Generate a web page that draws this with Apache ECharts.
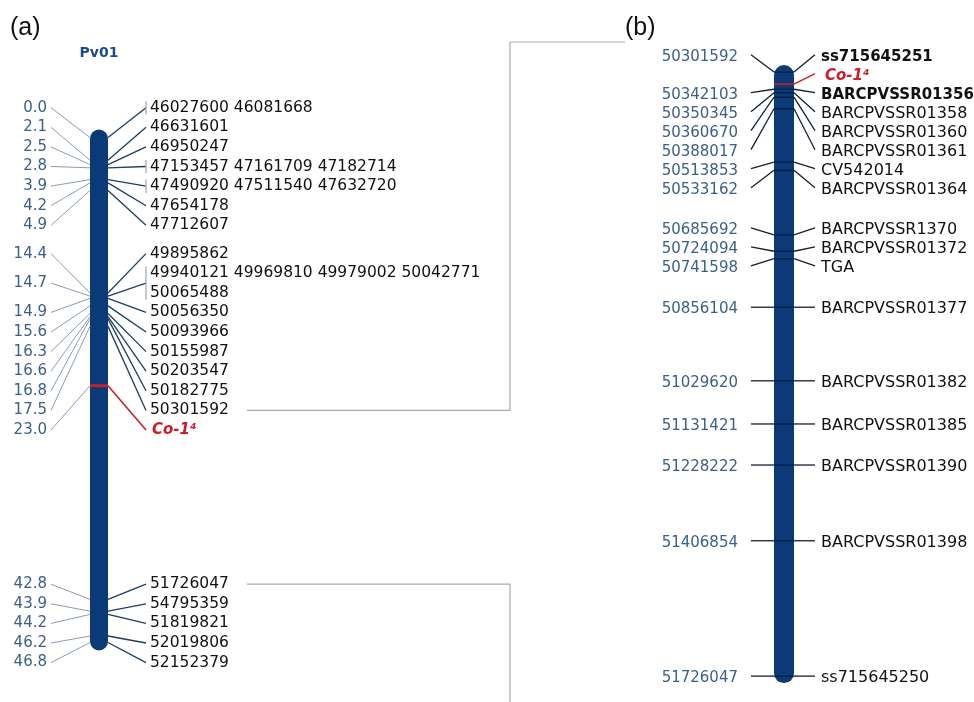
<!DOCTYPE html>
<html>
<head>
<meta charset="utf-8">
<script src="https://cdn.jsdelivr.net/npm/echarts@6/dist/echarts.min.js"></script>
<style>
html, body { margin: 0; padding: 0; background: #fff; }
#main { width: 974px; height: 702px; }
</style>
</head>
<body>
<div id="main"></div>
<script>
// linkage group (a): cM positions and the physical positions listed beside them
var chromosomeName = 'Pv01';
var mapCm = [0.0, 2.1, 2.5, 2.8, 3.9, 4.2, 4.9, 14.4, 14.7, 14.9, 15.6, 16.3, 16.6, 16.8, 17.5, 23.0, 42.8, 43.9, 44.2, 46.2, 46.8];
var mapLabels = ['46027600 46081668', '46631601', '46950247', '47153457 47161709 47182714',
    '47490920 47511540 47632720', '47654178', '47712607', '49895862',
    '49940121 49969810 49979002 50042771\n50065488', '50056350', '50093966', '50155987',
    '50203547', '50182775', '50301592', 'Co-1⁴', '51726047', '54795359', '51819821',
    '52019806', '52152379'];
var geneLabel = 'Co-1⁴';

// zoomed physical map (b)
var zoomPositions = [50301592, 50330000, 50342103, 50350345, 50360670, 50388017, 50513853,
    50533162, 50685692, 50724094, 50741598, 50856104, 51029620, 51131421, 51228222,
    51406854, 51726047];
var zoomMarkers = ['ss715645251', 'Co-1⁴', 'BARCPVSSR01356', 'BARCPVSSR01358', 'BARCPVSSR01360',
    'BARCPVSSR01361', 'CV542014', 'BARCPVSSR01364', 'BARCPVSSR1370', 'BARCPVSSR01372', 'TGA',
    'BARCPVSSR01377', 'BARCPVSSR01382', 'BARCPVSSR01385', 'BARCPVSSR01390', 'BARCPVSSR01398',
    'ss715645250'];
var boldMarkers = ['ss715645251', 'BARCPVSSR01356'];

var FONT = 'DejaVu Sans';
var RED = '#c8202a';
var CHROM = '#0b3a78';

var A = {
    chromWidth: 18, capPad: 8, leftLen: 39, rightLen: 38, leftGap: 4, rightGap: 4,
    rowGap: 19.6, pad: 4, shift: 2.5, rightSize: 15.5,
    leftColor: '#3b5f88', leftLine: '#8a9db3', rightLine: '#1d3d63', tick: '#9aa8b8',
    turnX: 510, topY: 42, endX: 625, connector: '#a3adb7'
};
var B = {
    chromWidth: 20, capPad: 7, leftLen: 23, rightLen: 21, leftGap: 13, rightGap: 6,
    rowGap: 19, pad: 10, textShift: 2, rightSize: 16,
    leftColor: '#3b5f88', lineColor: '#15202e', crossColor: '#061b3c'
};

var measureCtx = document.createElement('canvas').getContext('2d');
function textWidth(str, size, weight) {
    measureCtx.font = (weight || 'normal') + ' ' + size + 'px "' + FONT + '"';
    return measureCtx.measureText(str).width;
}

// spread labels so they do not overlap: neighbours that collide are merged into
// a block centred on the middle of the marks it covers
function spreadLabels(targets, heights, pad) {
    var groups = targets.map(function (t, i) {
        return { lo: t, hi: t, h: heights[i], first: i, last: i };
    });
    function top(g) { return (g.lo + g.hi) / 2 - g.h / 2; }
    var changed = true;
    while (changed) {
        changed = false;
        var next = [groups[0]];
        for (var i = 1; i < groups.length; i++) {
            var prev = next[next.length - 1];
            if (top(prev) + prev.h + pad > top(groups[i])) {
                next[next.length - 1] = {
                    lo: Math.min(prev.lo, groups[i].lo), hi: Math.max(prev.hi, groups[i].hi),
                    h: prev.h + groups[i].h, first: prev.first, last: groups[i].last
                };
                changed = true;
            } else {
                next.push(groups[i]);
            }
        }
        groups = next;
    }
    var out = [];
    groups.forEach(function (g) {
        var y = top(g);
        for (var k = g.first; k <= g.last; k++) {
            out[k] = y + heights[k] / 2;
            y += heights[k];
        }
    });
    return out;
}

function line(x1, y1, x2, y2, color, w) {
    return { type: 'line', shape: { x1: x1, y1: y1, x2: x2, y2: y2 }, style: { stroke: color, lineWidth: w } };
}
function text(x, y, str, align, size, color, weight, italic) {
    return {
        type: 'text',
        style: {
            x: x, y: y, text: str, align: align, verticalAlign: 'middle',
            textAlign: align, textVerticalAlign: 'middle',
            fontFamily: FONT, fontSize: size, fontWeight: weight || 'normal',
            fontStyle: italic ? 'italic' : 'normal', fill: color
        }
    };
}

function renderChromosome(params, api) {
    var P = params.seriesIndex === 0 ? A : B;
    var w = P.chromWidth;
    var top = api.coord([0, api.value(1)]);
    var bottom = api.coord([0, api.value(2)]);
    return {
        type: 'rect',
        shape: { x: top[0] - w / 2, y: top[1] - P.capPad, width: w, height: bottom[1] - top[1] + 2 * P.capPad, r: w / 2 },
        style: { fill: CHROM }
    };
}

function renderMapRow(params, api) {
    var i = params.dataIndex;
    var targets = mapCm.map(function (v) { return api.coord([0, v])[1]; });
    var heights = mapLabels.map(function (s) { return s.split('\n').length * A.rowGap; });
    var ys = spreadLabels(targets, heights, A.pad);
    var cx = api.coord([0, mapCm[i]])[0];
    var half = A.chromWidth / 2;
    var y0 = targets[i], y = ys[i] + A.shift;
    var label = mapLabels[i];
    var isGene = label === geneLabel;
    var children = [];

    var lx = cx - half - A.leftLen;
    children.push(line(lx, y, cx - half, y0, A.leftLine, 1));
    children.push(text(lx - A.leftGap, y, mapCm[i].toFixed(1), 'right', 15, A.leftColor));

    var rx = cx + half + A.rightLen;
    children.push(line(cx + half, y0, rx, y, isGene ? RED : A.rightLine, isGene ? 1.6 : 1.3));
    if (label.split(/\s+/).length > 1) {
        children.push(line(rx, y - heights[i] / 2 + 3, rx, y + heights[i] / 2 - 3, A.tick, 1.2));
    }
    label.split('\n').forEach(function (s, k) {
        var ty = y - heights[i] / 2 + (k + 0.5) * A.rowGap;
        if (isGene) {
            children.push(text(rx + A.rightGap + 2, ty, s, 'left', 15, RED, 'bold', true));
        } else {
            children.push(text(rx + A.rightGap, ty, s, 'left', A.rightSize, '#111'));
        }
    });
    if (isGene) {
        children.push({ type: 'rect', shape: { x: cx - half, y: y0 - 1.5, width: A.chromWidth, height: 3 }, style: { fill: RED } });
    }

    // connectors to the zoomed panel
    var first = String(zoomPositions[0]);
    var last = String(zoomPositions[zoomPositions.length - 1]);
    if (label === first || label === last) {
        var sx = rx + A.rightGap + textWidth(label, A.rightSize) + 18;
        var pts = label === first
            ? [[sx, y], [A.turnX, y], [A.turnX, A.topY], [A.endX, A.topY]]
            : [[sx, y], [A.turnX, y], [A.turnX, api.getHeight()]];
        children.push({ type: 'polyline', shape: { points: pts }, style: { stroke: A.connector, lineWidth: 1.2, fill: null } });
    }
    return { type: 'group', children: children };
}

function renderZoomRow(params, api) {
    var i = params.dataIndex;
    var targets = zoomPositions.map(function (v) { return api.coord([0, v])[1]; });
    var heights = zoomPositions.map(function () { return B.rowGap; });
    var ys = spreadLabels(targets, heights, B.pad);
    var cx = api.coord([0, zoomPositions[i]])[0];
    var half = B.chromWidth / 2;
    var y0 = targets[i], y = ys[i], ty = ys[i] + B.textShift;
    var name = zoomMarkers[i];
    var isGene = name === geneLabel;
    var bold = boldMarkers.indexOf(name) >= 0;
    var children = [];

    children.push(line(cx - half, y0, cx + half, y0, isGene ? RED : B.crossColor, isGene ? 1.6 : 1.3));
    if (!isGene) {
        var lx = cx - half - B.leftLen;
        children.push(line(lx, y, cx - half, y0, B.lineColor, 1.3));
        children.push(text(lx - B.leftGap, ty, String(zoomPositions[i]), 'right', 15, B.leftColor));
    }
    var rx = cx + half + B.rightLen;
    children.push(line(cx + half, y0, rx, y, isGene ? RED : B.lineColor, 1.3));
    if (isGene) {
        children.push(text(rx + B.rightGap + 4, ty, name, 'left', 15, RED, 'bold', true));
    } else if (bold) {
        children.push(text(rx + B.rightGap, ty, name, 'left', 15, '#111', 'bold'));
    } else {
        children.push(text(rx + B.rightGap, ty, name, 'left', B.rightSize, '#111'));
    }
    return { type: 'group', children: children };
}

var chart = echarts.init(document.getElementById('main'), null, { renderer: 'canvas' });

var option = {
    animation: false,
    backgroundColor: '#fff',
    title: [
        { text: '(a)', left: 5, top: 11, textStyle: { fontFamily: 'Liberation Sans', fontSize: 25, fontWeight: 'normal', color: '#111' } },
        { text: '(b)', left: 620, top: 11, textStyle: { fontFamily: 'Liberation Sans', fontSize: 25, fontWeight: 'normal', color: '#111' } }
    ],
    grid: [
        { left: 74, width: 50, top: 116, height: 561 },
        { left: 759, width: 50, top: 29, height: 670 }
    ],
    xAxis: [
        {
            type: 'category', gridIndex: 0, data: [chromosomeName], position: 'top',
            axisLine: { show: false }, axisTick: { show: false }, splitLine: { show: false },
            axisLabel: { margin: 56, fontFamily: FONT, fontWeight: 'bold', fontSize: 14, color: '#1f4b84' }
        },
        { type: 'category', gridIndex: 1, data: [''], show: false }
    ],
    yAxis: [
        { type: 'value', gridIndex: 0, inverse: true, min: -2, max: 50, show: false },
        { type: 'value', gridIndex: 1, inverse: true, min: 50200000, max: 51780000, show: false }
    ],
    series: [
        {
            type: 'custom', xAxisIndex: 0, yAxisIndex: 0, clip: false, silent: true, z: 1,
            renderItem: renderChromosome,
            encode: { x: 0, y: [1, 2] },
            data: [[0, mapCm[0], mapCm[mapCm.length - 1]]]
        },
        {
            type: 'custom', xAxisIndex: 1, yAxisIndex: 1, clip: false, silent: true, z: 1,
            renderItem: renderChromosome,
            encode: { x: 0, y: [1, 2] },
            data: [[0, zoomPositions[0], zoomPositions[zoomPositions.length - 1]]]
        },
        {
            type: 'custom', xAxisIndex: 0, yAxisIndex: 0, clip: false, silent: true, z: 2,
            renderItem: renderMapRow,
            encode: { x: 0, y: 1 },
            data: mapCm.map(function (v) { return [0, v]; })
        },
        {
            type: 'custom', xAxisIndex: 1, yAxisIndex: 1, clip: false, silent: true, z: 2,
            renderItem: renderZoomRow,
            encode: { x: 0, y: 1 },
            data: zoomPositions.map(function (v) { return [0, v]; })
        }
    ]
};
chart.setOption(option);
</script>
</body>
</html>
